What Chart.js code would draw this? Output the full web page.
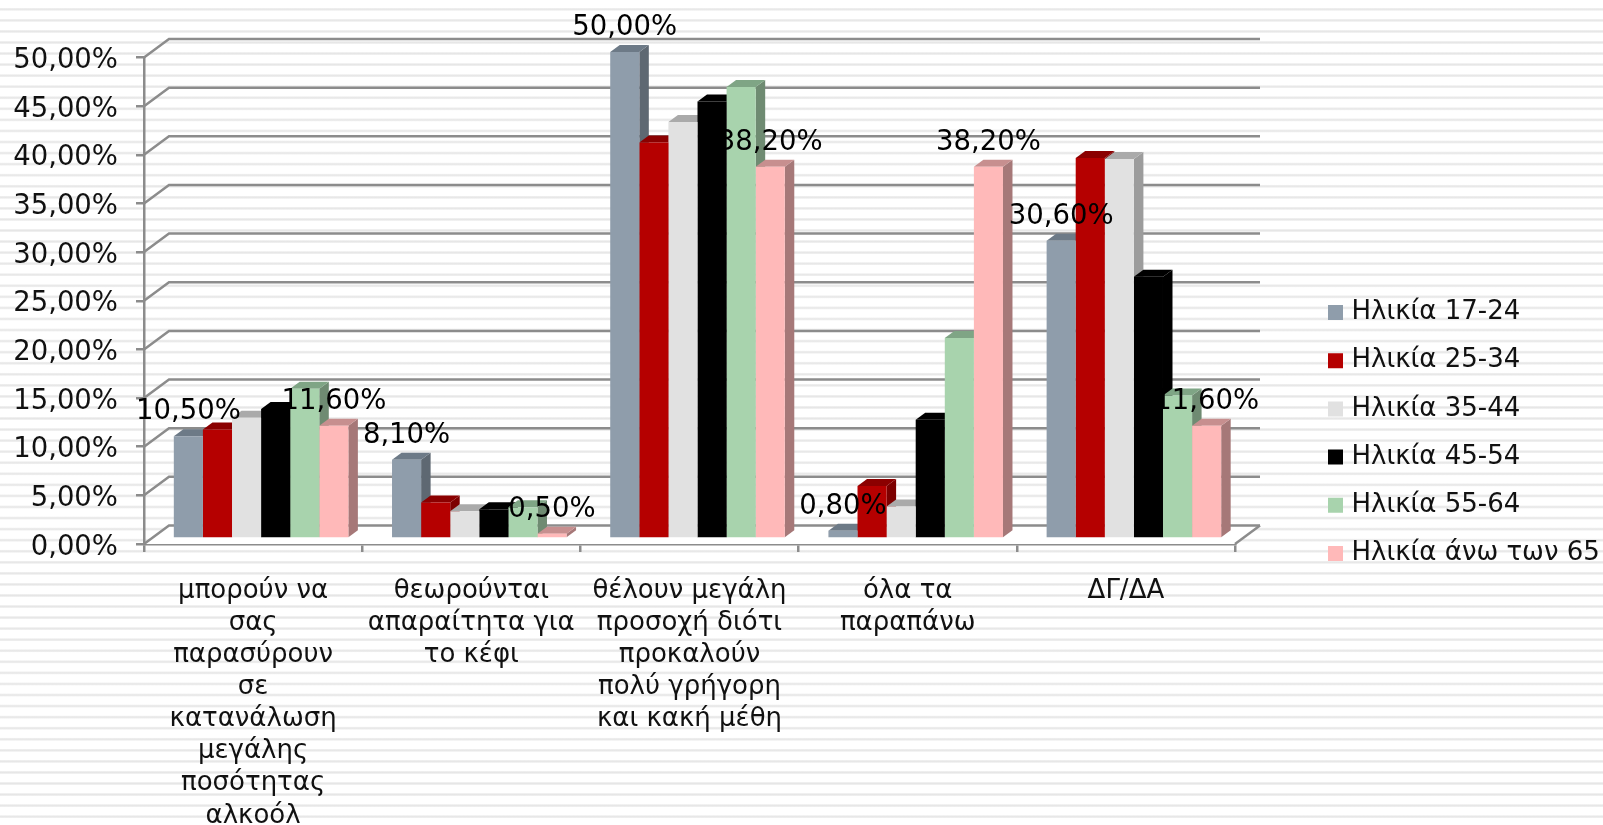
<!DOCTYPE html>
<html lang="el">
<head>
<meta charset="utf-8">
<title>Chart</title>
<script src="https://cdn.jsdelivr.net/npm/chart.js@4"></script>
<style>
    html, body { margin: 0; padding: 0; width: 1603px; height: 825px; overflow: hidden; }
    body {
        background: repeating-linear-gradient(180deg, #fff 0, #fff 7.5px, #efefef 8.3px, #e6e6e6 9.3px, #efefef 10.3px, #fff 11.06px);
    }
    canvas { display: block; }
</style>
</head>
<body>
<canvas id="chart" width="1603" height="825"></canvas>
<script>
const categories = [
    ['μπορούν να', 'σας', 'παρασύρουν', 'σε', 'κατανάλωση', 'μεγάλης', 'ποσότητας', 'αλκοόλ'],
    ['θεωρούνται', 'απαραίτητα για', 'το κέφι'],
    ['θέλουν μεγάλη', 'προσοχή διότι', 'προκαλούν', 'πολύ γρήγορη', 'και κακή μέθη'],
    ['όλα τα', 'παραπάνω'],
    ['ΔΓ/ΔΑ']
];
const seriesNames = ['Ηλικία 17-24', 'Ηλικία 25-34', 'Ηλικία 35-44', 'Ηλικία 45-54', 'Ηλικία 55-64', 'Ηλικία άνω των 65'];
const age17to24 = [10.5, 8.1, 50, 0.8, 30.6];
const age25to34 = [11.2, 3.7, 40.7, 5.4, 39.1];
const age35to44 = [12.4, 2.8, 42.8, 3.3, 39];
const age45to54 = [13.3, 3, 44.9, 12.2, 26.9];
const age55to64 = [15.4, 3.2, 46.4, 20.6, 14.7];
const ageOver65 = [11.6, 0.5, 38.2, 38.2, 11.6];
const seriesValues = [age17to24, age25to34, age35to44, age45to54, age55to64, ageOver65];

const frontColors = ['#8f9dab', '#b50000', '#e1e1e1', '#000000', '#a8d3ad', '#ffb9b9'];
const topColors = ['#6d7a87', '#8b0000', '#aaaaaa', '#000000', '#7fa585', '#c78f8f'];
const sideColors = ['#5e6872', '#7d0000', '#9c9c9c', '#000000', '#6f8b72', '#a67878'];
const labelledSeries = [0, 5];

const FONT = '"DejaVu Sans", Verdana, sans-serif';
const AXIS_COLOR = '#8c8c8c';
const WALL = { dx: 25, dy: -18.5 };      // back wall offset from the axes
const BAR_SHIFT = { x: 8, y: -5.5 };     // bars stand in the middle of the floor
const BAR_DEPTH = { x: 9.5, y: -7 };
const Y_LABEL_DROP = 3.5;

const fmtPercent = v => v.toFixed(2).replace('.', ',') + '%';

const wallPlugin = {
    id: 'wall',
    beforeDatasetsDraw(chart) {
        const { ctx, chartArea: area, scales } = chart;
        ctx.save();
        // floor
        ctx.fillStyle = '#fff';
        ctx.beginPath();
        ctx.moveTo(area.left, area.bottom);
        ctx.lineTo(area.left + WALL.dx, area.bottom + WALL.dy);
        ctx.lineTo(area.right + WALL.dx, area.bottom + WALL.dy);
        ctx.lineTo(area.right, area.bottom);
        ctx.closePath();
        ctx.fill();
        // back wall lines
        ctx.strokeStyle = AXIS_COLOR;
        ctx.lineWidth = 2.5;
        scales.y.ticks.forEach(t => {
            const y = scales.y.getPixelForValue(t.value);
            ctx.beginPath();
            ctx.moveTo(area.left, y);
            ctx.lineTo(area.left + WALL.dx, y + WALL.dy);
            ctx.lineTo(area.right + WALL.dx, y + WALL.dy);
            ctx.stroke();
        });
        ctx.beginPath();
        ctx.moveTo(area.right, area.bottom);
        ctx.lineTo(area.right + WALL.dx, area.bottom + WALL.dy);
        ctx.stroke();
        ctx.restore();
    }
};

const bar3dPlugin = {
    id: 'bar3d',
    // side and top faces go down first, left to right; the fronts cover them afterwards
    beforeDatasetsDraw(chart) {
        const { ctx } = chart;
        ctx.save();
        ctx.translate(BAR_SHIFT.x, BAR_SHIFT.y);
        seriesNames.forEach((name, i) => {
            chart.getDatasetMeta(i).data.forEach(el => {
                const { x, y, base, width } = el.getProps(['x', 'y', 'base', 'width'], true);
                const l = x - width / 2, r = x + width / 2;
                ctx.fillStyle = sideColors[i];
                ctx.beginPath();
                ctx.moveTo(r, y);
                ctx.lineTo(r + BAR_DEPTH.x, y + BAR_DEPTH.y);
                ctx.lineTo(r + BAR_DEPTH.x, base + BAR_DEPTH.y);
                ctx.lineTo(r, base);
                ctx.closePath();
                ctx.fill();
                ctx.fillStyle = topColors[i];
                ctx.beginPath();
                ctx.moveTo(l, y);
                ctx.lineTo(l + BAR_DEPTH.x, y + BAR_DEPTH.y);
                ctx.lineTo(r + BAR_DEPTH.x, y + BAR_DEPTH.y);
                ctx.lineTo(r, y);
                ctx.closePath();
                ctx.fill();
            });
        });
        ctx.restore();
    },
    beforeDatasetDraw(chart) {
        chart.ctx.save();
        chart.ctx.translate(BAR_SHIFT.x, BAR_SHIFT.y);
    },
    afterDatasetDraw(chart) {
        chart.ctx.restore();
    },
    afterDatasetsDraw(chart) {
        const { ctx } = chart;
        ctx.save();
        ctx.font = '27.5px ' + FONT;
        ctx.fillStyle = '#000';
        ctx.textAlign = 'center';
        ctx.textBaseline = 'middle';
        labelledSeries.forEach(i => {
            chart.getDatasetMeta(i).data.forEach((el, k) => {
                ctx.fillText(fmtPercent(seriesValues[i][k]), el.x + BAR_SHIFT.x, el.y + BAR_SHIFT.y - 24);
            });
        });
        ctx.restore();
    }
};

// legend sits to the right of the plot, outside the chart area
const legendPlacePlugin = {
    id: 'legendPlace',
    afterLayout(chart) {
        const legend = chart.legend;
        legend.left = 1310.3;
        legend.right = 1603;
        legend.top = 277.3;
        legend.bottom = 825;
        // y tick text sits a little below its tick in the original
        const yScale = chart.scales.y;
        const getItems = yScale.constructor.prototype.getLabelItems;
        yScale.getLabelItems = function (area) {
            const items = getItems.call(this, area);
            return items.map(it => ({ ...it, options: { ...it.options, translation: [it.options.translation[0], it.options.translation[1] + Y_LABEL_DROP] } }));
        };
    }
};

new Chart(document.getElementById('chart'), {
    type: 'bar',
    data: {
        labels: categories,
        datasets: seriesNames.map((name, i) => ({
            label: name,
            data: seriesValues[i],
            backgroundColor: frontColors[i],
            clip: false
        }))
    },
    options: {
        responsive: false,
        animation: false,
        devicePixelRatio: 1,
        layout: { autoPadding: false, padding: { left: 0, top: 57.5, right: 368, bottom: 0 } },
        datasets: { bar: { categoryPercentage: 0.8, barPercentage: 1 } },
        scales: {
            x: {
                afterFit: s => { s.height = 281; },
                border: { color: AXIS_COLOR, width: 2.5 },
                grid: { drawOnChartArea: false, offset: true, color: AXIS_COLOR, lineWidth: 2.5, tickLength: 8 },
                ticks: {
                    autoSkip: false, maxRotation: 0, minRotation: 0, padding: 23,
                    color: '#111', font: { family: FONT, size: 26, lineHeight: 1.235 }
                }
            },
            y: {
                min: 0, max: 50,
                afterFit: s => { s.width = 144; },
                border: { color: AXIS_COLOR, width: 2.5 },
                grid: { drawOnChartArea: false, color: AXIS_COLOR, lineWidth: 2.5, tickLength: 8 },
                ticks: {
                    stepSize: 5, padding: 18, color: '#111', callback: fmtPercent,
                    font: { family: FONT, size: 27.5 }
                }
            }
        },
        plugins: {
            tooltip: { enabled: false },
            legend: {
                position: 'chartArea',
                align: 'start',
                labels: {
                    boxWidth: 6, boxHeight: 6, padding: 22.2, color: '#111',
                    font: { family: FONT, size: 26 },
                    generateLabels: chart => Chart.defaults.plugins.legend.labels.generateLabels(chart)
                        .map(item => ({ ...item, lineWidth: 9, strokeStyle: item.fillStyle }))
                }
            }
        }
    },
    plugins: [wallPlugin, bar3dPlugin, legendPlacePlugin]
});
</script>
</body>
</html>
